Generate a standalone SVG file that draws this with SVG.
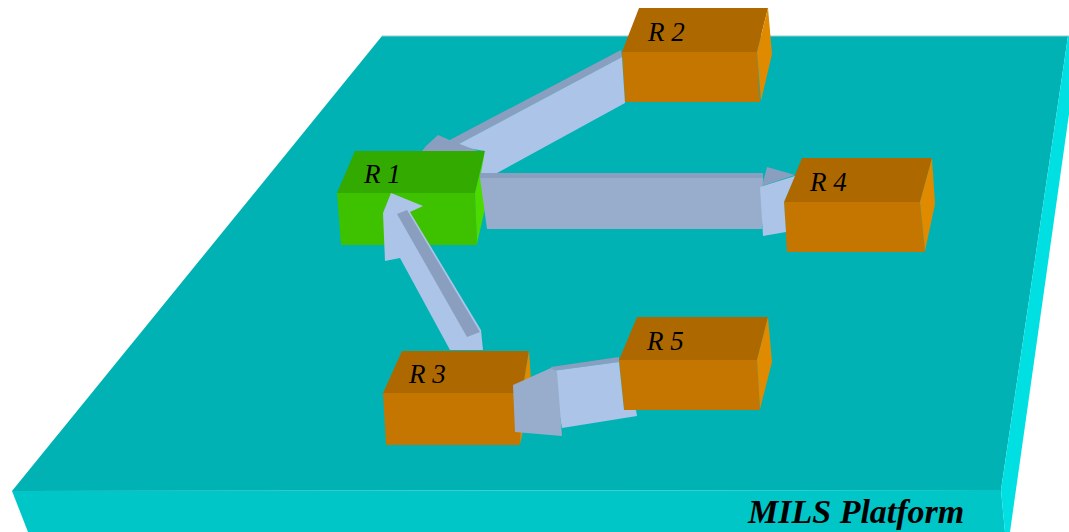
<svg xmlns="http://www.w3.org/2000/svg" width="1069" height="532" viewBox="0 0 1069 532">
  <style>
    .plat-top { fill: #00B2B4; }
    .plat-front { fill: #00C6C8; }
    .plat-side { fill: #00E0E2; }
    .o-top { fill: #AD6900; }
    .o-front { fill: #C47600; }
    .o-side { fill: #E08A00; }
    .g-top { fill: #33AA00; }
    .g-front { fill: #3EC200; }
    .g-side { fill: #4CDA00; }
    .a-light { fill: #ABC4E8; }
    .a-mid { fill: #97ADCB; }
    .a-dark { fill: #8A9FBF; }
    .label { font-family: "Liberation Serif", "Times New Roman", serif; font-style: italic; font-size: 27px; fill: #000; }
    .title { font-family: "Liberation Serif", "Times New Roman", serif; font-style: italic; font-weight: bold; font-size: 34px; fill: #000; }
  </style>

  <rect width="1069" height="532" fill="#FFFFFF"/>

  <!-- platform slab -->
  <g id="platform">
    <polygon class="plat-top" points="382,36 1068,36 1001,490 12,491"/>
    <polygon class="plat-front" points="12,491 1001,490 1005,532 28,532"/>
    <polygon class="plat-side" points="1068,36 1080,36 1010,532 1005,532 1001,490"/>
    <line x1="382" y1="36" x2="1069" y2="36" stroke="#9CCACA" stroke-width="1"/>
    <text class="title" x="748" y="523">MILS Platform</text>
  </g>

  <!-- partitions -->
  <g id="r1">
    <polygon class="g-top" points="355,151 485,151 475,193 337,193"/>
    <polygon class="g-front" points="337,193 475,193 477,245 341,245"/>
    <polygon class="g-side" points="485,151 488,195 477,244 475,193"/>
    <text class="label" x="364" y="183">R 1</text>
  </g>

  <g id="r2">
    <polygon class="o-top" points="639,8 768,8 757,52 622,52"/>
    <polygon class="o-front" points="622,52 757,52 760,102 625,102"/>
    <polygon class="o-side" points="768,8 772,54 761,101 757,52"/>
    <text class="label" x="648" y="41">R 2</text>
  </g>

  <g id="r3">
    <polygon class="o-top" points="402,351 529,351 522,393 383,393"/>
    <polygon class="o-front" points="383,393 522,393 520,445 386,445"/>
    <polygon class="o-side" points="529,351 532,394 520,444 522,393"/>
    <text class="label" x="409" y="383">R 3</text>
  </g>

  <g id="r4">
    <polygon class="o-top" points="802,158 932,158 920,202 784,202"/>
    <polygon class="o-front" points="784,202 920,202 925,252 787,252"/>
    <polygon class="o-side" points="932,158 935,204 925,251 920,202"/>
    <text class="label" x="810" y="191">R 4</text>
  </g>

  <g id="r5">
    <polygon class="o-top" points="637,317 768,317 757,360 619,360"/>
    <polygon class="o-front" points="619,360 757,360 760,410 624,410"/>
    <polygon class="o-side" points="768,317 772,362 760,409 757,360"/>
    <text class="label" x="647" y="350">R 5</text>
  </g>

  <!-- block arrows, cut where a partition sits in front of them -->
  <g id="connectors">
    <!-- R2 to R1 -->
    <g id="c-r2-r1">
      <polygon class="a-dark" points="621,50 622,57 455,146 446,142"/>
      <polygon class="a-light" points="622,57 455,146 485,151 481,173 497,173 625,103"/>
      <polygon class="a-dark" points="438,135 452,141 478,151 422,151 426,146"/>
    </g>
    <!-- R1 to R4 -->
    <g id="c-r1-r4">
      <polygon class="a-dark" points="480,173 763,173 763,178 480,178"/>
      <polygon class="a-mid" points="480,178 763,178 762,229 487,229"/>
      <polygon class="a-dark" points="767,167 795,175 762,186"/>
      <polygon class="a-light" points="760,187 795,176 784,202 786,232 763,236"/>
    </g>
    <!-- R3 to R1 -->
    <g id="c-r3-r1">
      <polygon class="a-light" points="391,193 423,206 410,212 481,330 483,350 450,350 400,258 385,261 383,213"/>
      <polygon class="a-dark" points="397,214 407,210 480,332 467,337"/>
    </g>
    <!-- R5 to R3 -->
    <g id="c-r5-r3">
      <polygon class="a-dark" points="551,367 619,357 619,362 552,371"/>
      <polygon class="a-light" points="552,371 619,362 624,410 636,410 637,416 562,428"/>
      <polygon class="a-mid" points="513,385 551,368 557,372 562,436 515,432"/>
    </g>
  </g>
</svg>
